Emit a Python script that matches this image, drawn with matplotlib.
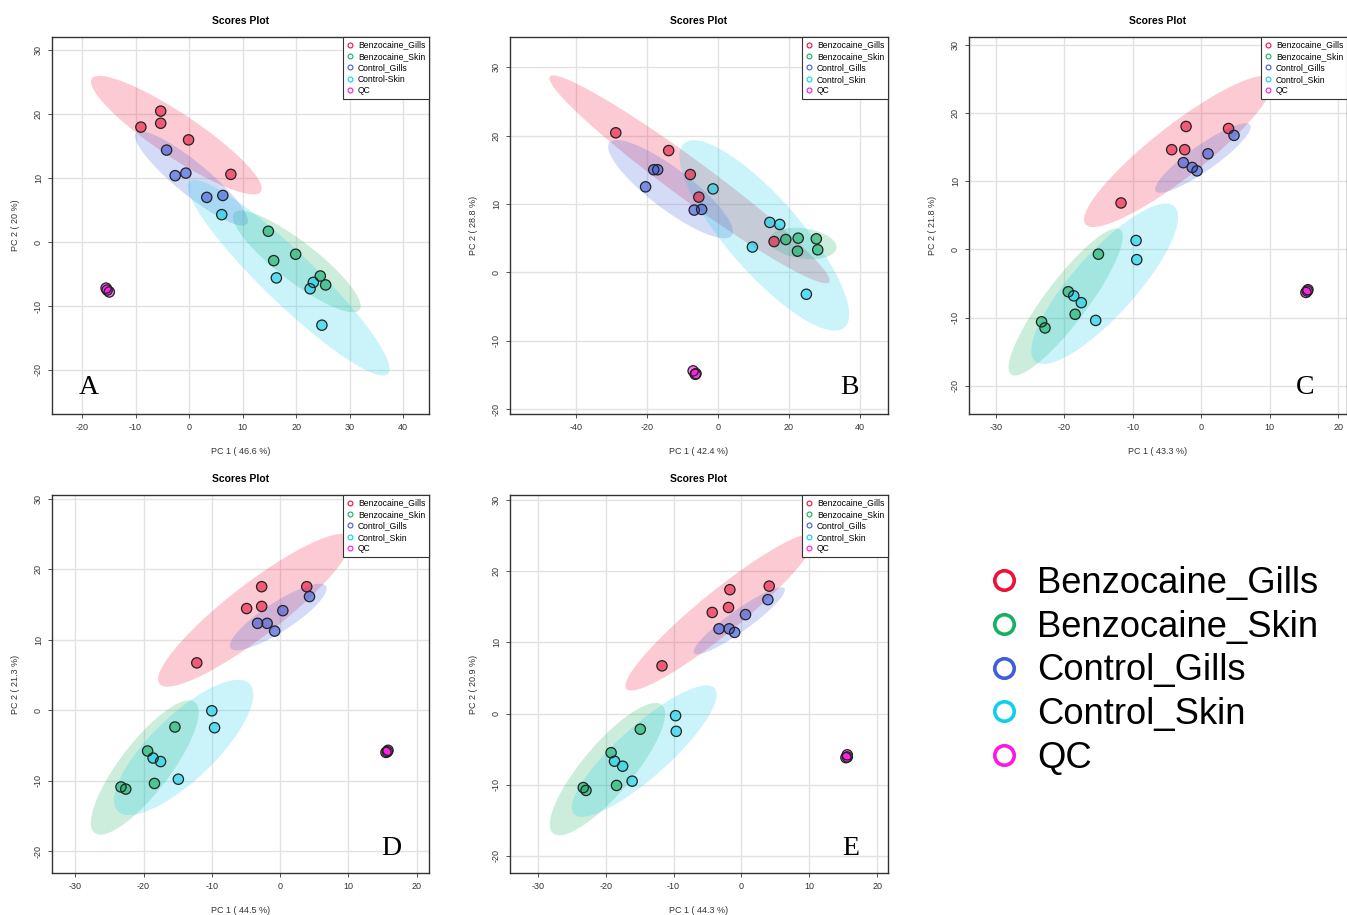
import numpy as np
import matplotlib
matplotlib.use("Agg")
import matplotlib.pyplot as plt
from matplotlib.lines import Line2D

plt.rcParams['font.family'] = ['Liberation Sans', 'DejaVu Sans']
plt.rcParams['axes.unicode_minus'] = False

groups = ["Benzocaine_Gills", "Benzocaine_Skin", "Control_Gills", "Control_Skin", "QC"]
colors = ["#EE1038", "#17B062", "#3F5EDC", "#0ED0EC", "#FF14E6"]

# group of each sample (same order in every panel)
sample_group = [0, 0, 0, 0, 0,
                1, 1, 1, 1, 1,
                2, 2, 2, 2, 2,
                3, 3, 3, 3, 3,
                4, 4, 4]

# panel A
pc1_a = [-9.0, -5.3, -5.3, -0.1, 7.8,
         14.8, 15.8, 19.9, 24.5, 25.5,
         -4.2, -2.6, -0.6, 3.3, 6.3,
         6.1, 16.3, 23.2, 22.6, 24.8,
         -15.5, -15.3, -14.9]
pc2_a = [18.0, 20.5, 18.6, 16.0, 10.6,
         1.7, -2.9, -1.9, -5.3, -6.7,
         14.4, 10.4, 10.8, 7.0, 7.3,
         4.3, -5.6, -6.3, -7.3, -13.0,
         -7.2, -7.5, -7.8]

# panel B
pc1_b = [-28.8, -13.9, -7.8, -5.4, 15.8,
         19.1, 22.6, 27.7, 22.4, 28.1,
         -20.4, -18.1, -17.0, -6.7, -4.6,
         -1.4, 14.6, 17.4, 9.7, 24.9,
         -7.0, -6.4, -6.2]
pc2_b = [20.4, 17.8, 14.3, 11.0, 4.5,
         4.8, 5.0, 4.9, 3.1, 3.3,
         12.5, 15.0, 15.0, 9.1, 9.2,
         12.2, 7.3, 7.0, 3.7, -3.2,
         -14.4, -14.9, -14.8]

# panel C
pc1_c = [-2.2, -4.3, -2.4, 4.0, -11.7,
         -15.0, -19.4, -18.4, -23.3, -22.8,
         -2.6, -1.3, -0.6, 1.0, 4.8,
         -9.5, -9.4, -18.6, -17.5, -15.4,
         15.6, 15.3, 15.5]
pc2_c = [18.0, 14.6, 14.6, 17.7, 6.8,
         -0.7, -6.2, -9.5, -10.6, -11.5,
         12.7, 12.0, 11.5, 14.0, 16.7,
         1.3, -1.5, -6.8, -7.8, -10.4,
         -5.9, -6.3, -6.1]

# panel D
pc1_d = [-2.7, 3.9, -4.9, -2.7, -12.2,
         -15.4, -19.4, -18.4, -23.3, -22.6,
         -3.3, -1.9, -0.8, 0.4, 4.3,
         -10.0, -9.6, -18.6, -17.5, -14.9,
         15.8, 15.5, 15.7]
pc2_d = [17.5, 17.5, 14.4, 14.7, 6.7,
         -2.4, -5.8, -10.4, -10.9, -11.2,
         12.3, 12.3, 11.2, 14.1, 16.1,
         -0.1, -2.5, -6.8, -7.3, -9.8,
         -5.7, -6.0, -5.9]

# panel E
pc1_e = [-1.7, 4.1, -4.3, -1.9, -11.7,
         -14.9, -19.2, -18.4, -23.3, -22.9,
         -3.3, -1.8, -1.0, 0.6, 3.9,
         -9.7, -9.6, -18.7, -17.5, -16.1,
         15.6, 15.4, 15.6]
pc2_e = [17.4, 17.9, 14.2, 14.9, 6.7,
         -2.2, -5.5, -10.1, -10.4, -10.8,
         11.9, 11.9, 11.4, 13.9, 16.0,
         -0.3, -2.5, -6.7, -7.4, -9.5,
         -5.8, -6.2, -6.1]

pc1_var = ["46.6", "42.4", "43.3", "44.5", "44.3"]
pc2_var = ["20", "28.8", "21.8", "21.3", "20.9"]
panel_letters = ["A", "B", "C", "D", "E"]
legend_a = ["Benzocaine_Gills", "Benzocaine_Skin", "Control_Gills", "Control-Skin", "QC"]

panels = [
    dict(x=pc1_a, y=pc2_a, rect=[52, 37, 377, 377], xlim=(-25.6, 44.8), ylim=(-26.9, 32.1),
         xt=[-20, -10, 0, 10, 20, 30, 40], yt=[-20, -10, 0, 10, 20, 30], letter=(0.098, 0.07), labels=legend_a),
    dict(x=pc1_b, y=pc2_b, rect=[510, 37, 378, 377], xlim=(-58.6, 47.9), ylim=(-20.7, 34.4),
         xt=[-40, -20, 0, 20, 40], yt=[-20, -10, 0, 10, 20, 30], letter=(0.897, 0.07), labels=groups),
    dict(x=pc1_c, y=pc2_c, rect=[969, 37, 378, 377], xlim=(-33.9, 21.3), ylim=(-24.1, 31.1),
         xt=[-30, -20, -10, 0, 10, 20], yt=[-20, -10, 0, 10, 20, 30], letter=(0.889, 0.07), labels=groups),
    dict(x=pc1_d, y=pc2_d, rect=[52, 495, 377, 378], xlim=(-33.4, 21.8), ylim=(-23.1, 30.5),
         xt=[-30, -20, -10, 0, 10, 20], yt=[-20, -10, 0, 10, 20, 30], letter=(0.9, 0.066), labels=groups),
    dict(x=pc1_e, y=pc2_e, rect=[510, 495, 378, 378], xlim=(-34.1, 21.6), ylim=(-22.4, 30.7),
         xt=[-30, -20, -10, 0, 10, 20], yt=[-20, -10, 0, 10, 20, 30], letter=(0.902, 0.066), labels=groups),
]

W, H = 1347, 915
fig = plt.figure(figsize=(W / 100, H / 100), dpi=100)

t95 = np.sqrt(-2 * np.log(0.05))  # sqrt(qchisq(0.95, 2))
theta = np.linspace(0, 2 * np.pi, 200)

for i, p in enumerate(panels):
    l, t, w, h = p["rect"]
    ax = fig.add_axes([l / W, 1 - (t + h) / H, w / W, h / H])
    x = np.array(p["x"])
    y = np.array(p["y"])
    g = np.array(sample_group)

    # 95% confidence ellipses
    for k in range(len(groups)):
        pts = np.column_stack([x[g == k], y[g == k]])
        mu = pts.mean(axis=0)
        cov = np.cov(pts.T)
        vals, vecs = np.linalg.eigh(cov)
        circ = np.vstack([np.cos(theta), np.sin(theta)])
        ell = (vecs @ np.diag(np.sqrt(np.maximum(vals, 0))) @ circ) * t95
        ax.fill(ell[0] + mu[0], ell[1] + mu[1], color=colors[k], alpha=0.22, lw=0, zorder=1)

    for k in range(len(groups)):
        ax.scatter(x[g == k], y[g == k], s=55, color=colors[k], alpha=0.6,
                   edgecolors="none", zorder=3)
        ax.scatter(x[g == k], y[g == k], s=55, facecolors="none",
                   edgecolors="#222222", linewidths=0.9, zorder=4)

    ax.set_xlim(p["xlim"])
    ax.set_ylim(p["ylim"])
    ax.set_xticks(p["xt"])
    ax.set_yticks(p["yt"])
    ax.grid(True, color="#e2e2e2", lw=1.0, zorder=0)
    ax.set_axisbelow(True)
    ax.tick_params(labelsize=6.5, colors="#333333", length=3, width=0.6)
    for lab in ax.get_yticklabels():
        lab.set_rotation(90)
        lab.set_va("center")
    for s in ax.spines.values():
        s.set_color("#333333")
        s.set_linewidth(1.0)

    ax.set_title("Scores Plot", fontsize=7.5, fontweight="bold", pad=9)
    ax.set_xlabel("PC 1 ( " + pc1_var[i] + " %)", fontsize=6.5, color="#333333", labelpad=11)
    ax.set_ylabel("PC 2 ( " + pc2_var[i] + " %)", fontsize=6.5, color="#333333", labelpad=10)

    handles = [Line2D([], [], ls="none", marker="o", markersize=3.5, markerfacecolor="none",
                      markeredgecolor=colors[k], markeredgewidth=0.8) for k in range(len(groups))]
    leg = ax.legend(handles, p["labels"], loc="upper right", fontsize=6.2, frameon=True,
                    fancybox=False, edgecolor="#333333", framealpha=1, borderaxespad=0,
                    handlelength=0.8, handletextpad=0.5, labelspacing=0.28, borderpad=0.42)
    leg.get_frame().set_linewidth(0.8)
    leg.set_zorder(6)

    ax.text(p["letter"][0], p["letter"][1], panel_letters[i], transform=ax.transAxes,
            fontsize=20, family=["Liberation Serif", "DejaVu Serif"], ha="center", va="center", zorder=7)

big_handles = [Line2D([], [], ls="none", marker="o", markersize=14, markerfacecolor="none",
                      markeredgecolor=colors[k], markeredgewidth=2.6) for k in range(len(groups))]
fig.legend(big_handles, groups, loc="upper left", bbox_to_anchor=(990 / W, 1 - 566 / H),
           frameon=False, fontsize=26.2, handlelength=0.75, handletextpad=0.55,
           labelspacing=0.24, borderpad=0, borderaxespad=0)

fig.savefig("out.png", dpi=100)
